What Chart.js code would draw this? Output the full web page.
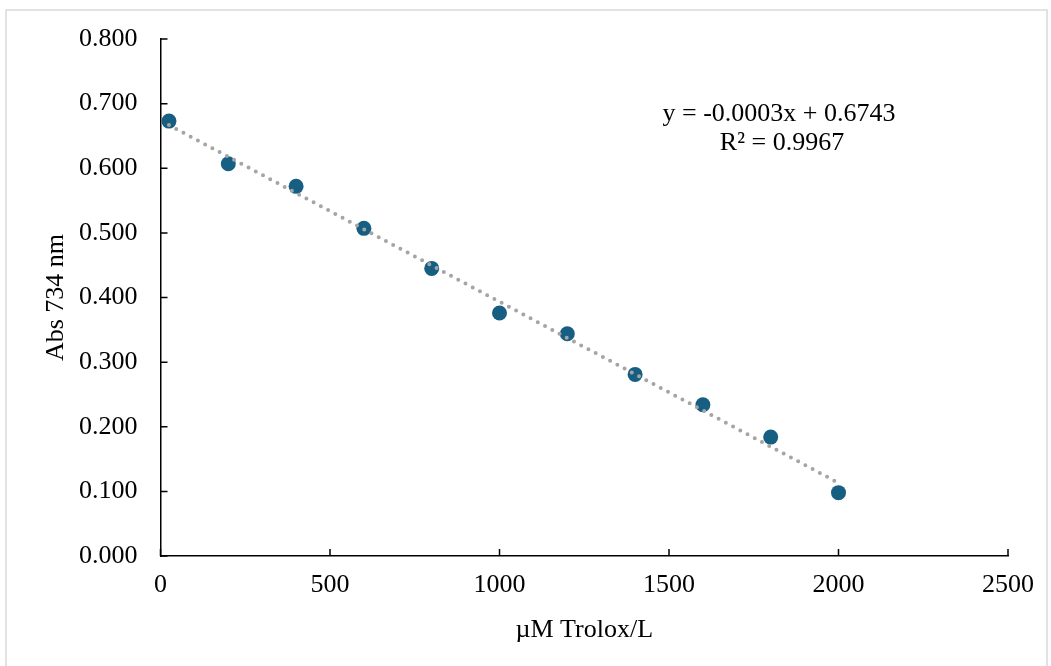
<!DOCTYPE html>
<html>
<head>
<meta charset="utf-8">
<script src="https://cdn.jsdelivr.net/npm/chart.js@4"></script>
<style>
  html, body { margin: 0; padding: 0; background: #fff; }
  #wrap { width: 1051px; height: 666px; position: relative; }
</style>
</head>
<body>
<div id="wrap"><canvas id="chart"></canvas></div>
<script>
const concentrations = [25, 200, 400, 600, 800, 1000, 1200, 1400, 1600, 1800, 2000];
const absorbance = [0.673, 0.607, 0.572, 0.507, 0.445, 0.376, 0.344, 0.281, 0.234, 0.184, 0.098];
const xTicks = [0, 500, 1000, 1500, 2000, 2500];
const yTicks = [0, 0.1, 0.2, 0.3, 0.4, 0.5, 0.6, 0.7, 0.8];
const equationLines = ['y = -0.0003x + 0.6743', 'R\u00b2 = 0.9967'];

const font = "'Liberation Serif', 'Times New Roman', serif";

// least squares fit for the trendline
function linearFit(xs, ys) {
    const n = xs.length;
    const mx = xs.reduce((a, b) => a + b, 0) / n;
    const my = ys.reduce((a, b) => a + b, 0) / n;
    let sxy = 0, sxx = 0;
    xs.forEach((x, i) => { sxy += (x - mx) * (ys[i] - my); sxx += (x - mx) * (x - mx); });
    const slope = sxy / sxx;
    return { slope, intercept: my - slope * mx };
}

const fit = linearFit(concentrations, absorbance);
const xFirst = concentrations[0];
const xLast = concentrations[concentrations.length - 1];
const trendPoints = [xFirst, xLast].map((x) => ({ x, y: fit.intercept + fit.slope * x }));

const frame = {
    id: 'frame',
    beforeDraw(chart) {
        const ctx = chart.ctx;
        ctx.save();
        ctx.fillStyle = '#fff';
        ctx.fillRect(0, 0, chart.width, chart.height);
        ctx.strokeStyle = '#d9d9d9';
        ctx.lineWidth = 1.5;
        ctx.strokeRect(6, 10, 1041, 662);
        ctx.restore();
    }
};

const innerTicks = {
    id: 'innerTicks',
    afterDatasetsDraw(chart) {
        const ctx = chart.ctx;
        const x = chart.scales.x;
        const y = chart.scales.y;
        ctx.save();
        ctx.strokeStyle = '#000';
        ctx.lineWidth = 1.5;
        ctx.beginPath();
        xTicks.forEach((v) => {
            const px = x.getPixelForValue(v);
            ctx.moveTo(px, y.bottom);
            ctx.lineTo(px, y.bottom - 7);
        });
        yTicks.forEach((v) => {
            const py = y.getPixelForValue(v);
            ctx.moveTo(x.left, py);
            ctx.lineTo(x.left + 7, py);
        });
        ctx.stroke();

        ctx.fillStyle = '#000';
        ctx.font = '26px ' + font;
        ctx.textAlign = 'center';
        ctx.textBaseline = 'middle';
        ctx.fillText(equationLines[0], 779, 114);
        ctx.fillText(equationLines[1], 782, 143);
        ctx.restore();
    }
};

new Chart(document.getElementById('chart'), {
    type: 'scatter',
    data: {
        datasets: [{
            type: 'line',
            label: 'Linear',
            data: trendPoints,
            borderColor: '#a5a5a5',
            borderWidth: 4,
            borderDash: [0, 8.2],
            borderCapStyle: 'round',
            pointRadius: 0,
            fill: false,
            order: 0
        }, {
            label: 'Abs',
            data: concentrations.map((x, i) => ({ x, y: absorbance[i] })),
            backgroundColor: '#175e83',
            borderColor: '#175e83',
            pointRadius: 7.5,
            pointHoverRadius: 7.5,
            borderWidth: 0,
            order: 1
        }]
    },
    options: {
        responsive: true,
        maintainAspectRatio: false,
        animation: false,
        layout: { padding: { left: 41, top: 39, right: 43, bottom: 20 } },
        plugins: { legend: { display: false }, tooltip: { enabled: false } },
        scales: {
            x: {
                type: 'linear',
                min: 0,
                max: 2500,
                afterFit: (scale) => { scale.height = 90; },
                afterBuildTicks: (scale) => { scale.ticks = xTicks.map((value) => ({ value })); },
                grid: { display: false, drawTicks: false },
                border: { color: '#000', width: 1.5 },
                ticks: { color: '#000', padding: 14, font: { family: font, size: 26 }, maxRotation: 0, callback: (v) => String(v) },
                title: { display: true, text: '\u00b5M Trolox/L', color: '#000', font: { family: font, size: 26 }, padding: { top: 0, bottom: 0 } }
            },
            y: {
                type: 'linear',
                min: 0,
                max: 0.8,
                afterFit: (scale) => { scale.width = 119.5; },
                afterBuildTicks: (scale) => { scale.ticks = yTicks.map((value) => ({ value })); },
                grid: { display: false, drawTicks: false },
                border: { color: '#000', width: 1.5 },
                ticks: { color: '#000', padding: 23, font: { family: font, size: 26 }, callback: (v) => Number(v).toFixed(3) },
                title: { display: true, text: 'Abs 734 nm', color: '#000', font: { family: font, size: 26 }, padding: { top: 0, bottom: 0 } }
            }
        }
    },
    plugins: [frame, innerTicks]
});
</script>
</body>
</html>
